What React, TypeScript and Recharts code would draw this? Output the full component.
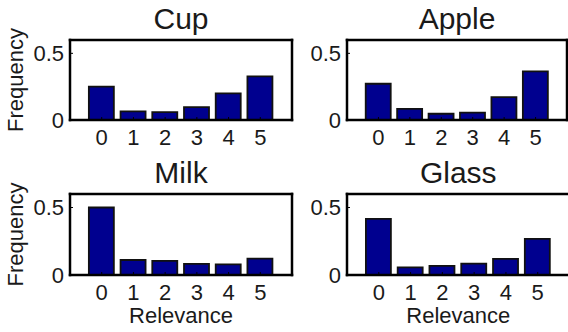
import React from 'react';
import { BarChart, Bar, XAxis, YAxis, Label } from 'recharts';

// relevance levels on the x axis
const relevance = [0, 1, 2, 3, 4, 5];
// frequency per relevance level
const cupFreq = [0.25, 0.064, 0.059, 0.096, 0.2, 0.327];
const appleFreq = [0.272, 0.084, 0.047, 0.056, 0.171, 0.365];
const milkFreq = [0.5, 0.111, 0.104, 0.082, 0.079, 0.121];
const glassFreq = [0.416, 0.057, 0.067, 0.084, 0.119, 0.267];
const yTicks = [0, 0.5];

const FONT = '"Liberation Sans", Arial, Helvetica, sans-serif';
const INK = '#1a1a1a';
const BAR_FILL = '#00008f';
const Y_AXIS_W = 40;

interface PanelProps {
  title: string;
  values: number[];
  left: number;
  top: number;
  width: number;
  height: number;
  x0: number;
  x1: number;
  y0: number;
  y1: number;
  xAxisH: number;
  yLabel?: boolean;
  xLabel?: boolean;
}

const panels: PanelProps[] = [
  { title: 'Cup', values: cupFreq, left: 0, top: 0, width: 300, height: 150, x0: 70, x1: 292, y0: 40, y1: 120, xAxisH: 30, yLabel: true },
  { title: 'Apple', values: appleFreq, left: 300, top: 0, width: 268, height: 150, x0: 347, x1: 567, y0: 40, y1: 120, xAxisH: 30 },
  { title: 'Milk', values: milkFreq, left: 0, top: 150, width: 300, height: 182, x0: 70, x1: 292, y0: 194, y1: 275, xAxisH: 40, yLabel: true, xLabel: true },
  { title: 'Glass', values: glassFreq, left: 300, top: 150, width: 272, height: 182, x0: 347, x1: 569.5, y0: 194, y1: 275, xAxisH: 40, xLabel: true },
];

const axisLine = { stroke: '#000', strokeWidth: 2.5, strokeLinecap: 'square' as const };
const tickLine = { stroke: '#000', strokeWidth: 1 };
const tickStyle = { fill: INK, fontSize: 22, fontFamily: FONT };

const Panel: React.FC<{ p: PanelProps }> = ({ p }) => {
  const data = relevance.map((r, i) => ({ r, f: p.values[i] }));
  const margin = {
    top: p.y0 - p.top - 1,
    bottom: p.top + p.height - p.y1 - p.xAxisH,
    left: p.x0 - p.left - Y_AXIS_W,
    right: p.left + p.width - p.x1 - 1,
  };
  const cx = (p.x0 + p.x1) / 2 - p.left;
  const cy = (p.y0 + p.y1) / 2 - p.top;

  return (
    <div style={{ position: 'absolute', left: p.left, top: p.top }}>
      <BarChart width={p.width} height={p.height} data={data} margin={margin}>
        <XAxis
          dataKey="r"
          type="number"
          domain={[-1, 6]}
          ticks={relevance}
          interval={0}
          height={p.xAxisH}
          tickSize={-3}
          tickMargin={12.5}
          axisLine={axisLine}
          tickLine={tickLine}
          tick={tickStyle}
          allowDataOverflow
        >
          {p.xLabel && (
            <Label
              content={() => (
                <text x={cx} y={p.y1 - p.top + 48} textAnchor="middle" fontSize={22} fontFamily={FONT} fill={INK}>
                  Relevance
                </text>
              )}
            />
          )}
        </XAxis>
        <XAxis
          xAxisId="top"
          orientation="top"
          dataKey="r"
          type="number"
          domain={[-1, 6]}
          ticks={relevance}
          interval={0}
          height={1}
          tickSize={-3}
          axisLine={axisLine}
          tickLine={tickLine}
          tick={false}
          allowDataOverflow
        >
          <Label
            content={() => (
              <text x={cx} y={p.y0 - p.top - 11} textAnchor="middle" fontSize={30} fontFamily={FONT} fill={INK}>
                {p.title}
              </text>
            )}
          />
        </XAxis>
        <YAxis
          domain={[0, 0.6]}
          ticks={yTicks}
          width={Y_AXIS_W}
          tickSize={-3}
          tickMargin={9}
          axisLine={axisLine}
          tickLine={tickLine}
          tick={tickStyle}
          tickFormatter={(v: number) => String(v)}
          allowDataOverflow
        >
          {p.yLabel && (
            <Label
              content={() => (
                <text
                  x={23 - p.left}
                  y={cy}
                  transform={`rotate(-90, ${23 - p.left}, ${cy})`}
                  textAnchor="middle"
                  fontSize={22}
                  fontFamily={FONT}
                  fill={INK}
                >
                  Frequency
                </text>
              )}
            />
          )}
        </YAxis>
        <YAxis
          yAxisId="right"
          orientation="right"
          domain={[0, 0.6]}
          ticks={yTicks}
          width={1}
          tickSize={-3}
          axisLine={axisLine}
          tickLine={tickLine}
          tick={false}
          allowDataOverflow
        />
        <Bar dataKey="f" fill={BAR_FILL} stroke="#111" strokeWidth={1.8} barSize={25} isAnimationActive={false} />
      </BarChart>
    </div>
  );
};

export default function App() {
  return (
    <div style={{ position: 'absolute', left: 0, top: 0, width: 568, height: 332, overflow: 'hidden', background: '#fff' }}>
      {panels.map((p) => (
        <Panel key={p.title} p={p} />
      ))}
    </div>
  );
}
